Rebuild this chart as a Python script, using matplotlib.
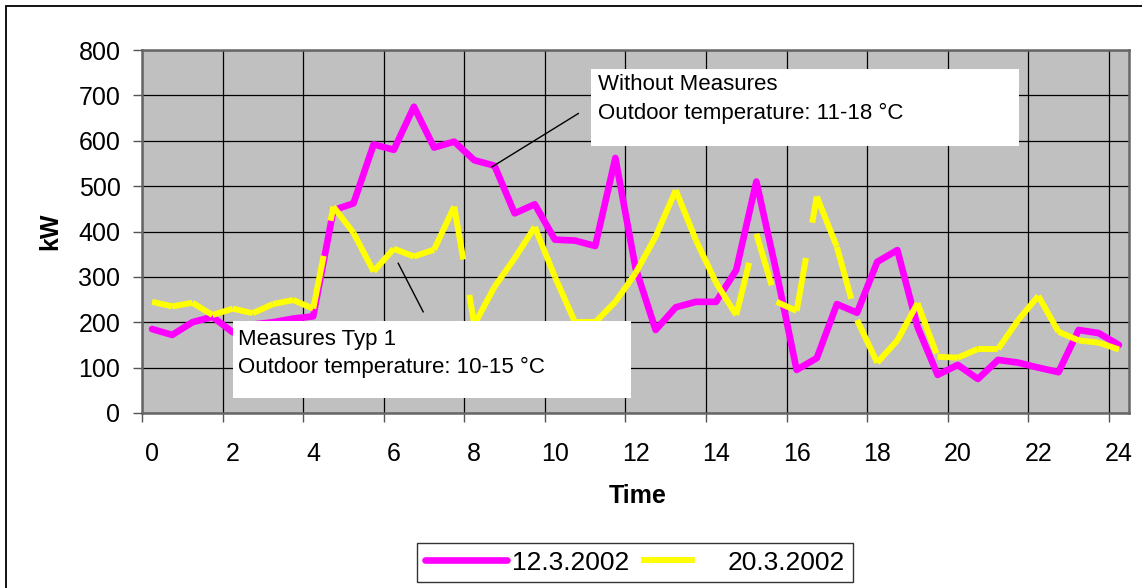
import matplotlib.pyplot as plt
import numpy as np
from matplotlib.lines import Line2D
from matplotlib.patches import Rectangle

plt.rcParams['font.family'] = ['Liberation Sans', 'DejaVu Sans']

# half-hour readings over one day
hours = np.arange(0, 24.5, 0.5)

load_0312 = [185, 172, 200, 212, 178, 195, 200, 208, 213, 447,
             462, 592, 580, 675, 585, 598, 557, 545, 440, 460,
             382, 380, 368, 562, 320, 183, 233, 245, 245, 315,
             510, 310, 95, 121, 240, 221, 333, 359, 190, 84,
             106, 75, 117, 111, 100, 90, 183, 176, 150]

load_2003 = [245, 235, 243, 216, 230, 220, 240, 249, 230, 455,
             397, 312, 362, 345, 360, 455, 195, 278, 341, 410,
             300, 200, 200, 245, 308, 389, 491, 381, 287, 216,
             395, 245, 225, 477, 366, 205, 111, 160, 242, 124,
             122, 141, 141, 205, 258, 179, 160, 155, 140]

labels = ['12.3.2002', '20.3.2002']
tick_hours = list(range(0, 25, 2))

W, H = 1142, 588
fig = plt.figure(figsize=(W / 100, H / 100), dpi=100)
ax = fig.add_axes([142 / W, 1 - 413 / H, (1129 - 142) / W, (413 - 50) / H])
ax.set_facecolor('#c0c0c0')

# outer frame of the chart
fig.patches.append(Rectangle((6 / W, -0.1), 1.2, 1.1 - 6 / H,
                             transform=fig.transFigure, fill=False,
                             ec='black', lw=1.3))

magenta = '#ff00ff'
yellow = '#ffff00'

ax.plot(hours, load_0312, color=magenta, lw=4.8, solid_joinstyle='round',
        solid_capstyle='round', zorder=3)

# dashed series, dash pattern restarts on every segment
for i in range(len(hours) - 1):
    ax.plot(hours[i:i + 2], load_2003[i:i + 2], color=yellow, lw=4.3,
            dashes=(9, 6), dash_capstyle='butt', zorder=4)

ax.set_xlim(-0.25, 24.25)
ax.set_ylim(0, 800)

# category boundaries carry the grid, labels sit on the category centres
ax.set_xticks(np.arange(-0.25, 24, 2))
ax.set_xticklabels([])
ax.set_xticks(tick_hours, minor=True)
ax.set_xticklabels([str(h) for h in tick_hours], minor=True, fontsize=18)
ax.tick_params(axis='x', which='major', length=6.5, width=1, color='#555555')
ax.tick_params(axis='x', which='minor', length=0, pad=21)
ax.set_yticks(range(0, 801, 100))
ax.set_yticklabels([str(v) for v in range(0, 801, 100)], fontsize=18)
ax.tick_params(axis='y', length=6.5, width=1, color='#555555', pad=9)
ax.grid(True, which='major', color='black', lw=0.9)
ax.set_axisbelow(True)

for side in ['left', 'right', 'top', 'bottom']:
    ax.spines[side].set_color('#666666')
    ax.spines[side].set_linewidth(1.8)

ax.set_xlabel('Time', fontsize=18, fontweight='bold', va='center')
ax.xaxis.set_label_coords(0.5025, -(496 - 413) / 363)
ax.set_ylabel('kW', fontsize=18, fontweight='bold', va='center')
ax.yaxis.set_label_coords(-(142 - 50) / 987, 0.5)

# annotation boxes with leader lines
ax.add_patch(Rectangle((10.89, 588), 21.52 - 10.89, 758 - 588,
                       fc='white', ec='none', zorder=6))
ax.text(11.07, 725, 'Without Measures', fontsize=16, va='center', zorder=7)
ax.text(11.07, 661, 'Outdoor temperature: 11-18 °C', fontsize=16,
        va='center', zorder=7)
ax.plot([10.58, 8.43], [660, 542], color='black', lw=1, zorder=5)

ax.add_patch(Rectangle((2.01, 33), 11.89 - 2.01, 203 - 33,
                       fc='white', ec='none', zorder=6))
ax.text(2.13, 161, 'Measures Typ 1', fontsize=16, va='center', zorder=7)
ax.text(2.13, 101, 'Outdoor temperature: 10-15 °C', fontsize=16,
        va='center', zorder=7)
ax.plot([6.11, 6.73], [330, 223], color='black', lw=1, zorder=5)

handles = [Line2D([], [], color=magenta, lw=4.8, solid_capstyle='round'),
           Line2D([], [], color=yellow, lw=4.3, dashes=(9, 6),
                  dash_capstyle='butt')]
leg = fig.legend(handles, labels, loc='center', ncol=2,
                 bbox_to_anchor=(635 / W, 1 - 562.5 / H), fontsize=19,
                 frameon=True, fancybox=False, shadow=False,
                 handlelength=3.1, handletextpad=0.2, columnspacing=0.45,
                 borderpad=0.3, borderaxespad=0)
leg.get_frame().set_edgecolor('black')
leg.get_frame().set_linewidth(1)

fig.savefig('out.png', dpi=100)
